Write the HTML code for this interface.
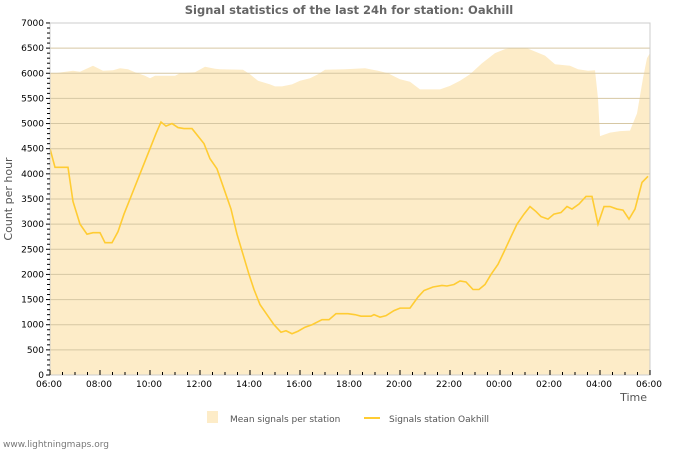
<!DOCTYPE html>
<html><head><meta charset="utf-8"><style>
body{margin:0;background:#fff;}
svg text{font-family:"DejaVu Sans","Liberation Sans",sans-serif;}
</style></head><body>
<svg width="700" height="450" xmlns="http://www.w3.org/2000/svg">
<rect width="700" height="450" fill="#fff"/>
<text x="349" y="14" text-anchor="middle" font-size="11.5" font-weight="bold" fill="#666">Signal statistics of the last 24h for station: Oakhill</text>
<g transform="translate(0,375) scale(1,-0.05029)">
<polygon fill="#fdecc8" points="50,0 50,6000 55,6000 62,6020 73,6050 80,6030 93,6150 103,6050 113,6060 120,6100 128,6080 135,6020 145,5950 150,5900 155,5950 175,5950 180,6000 195,6020 205,6130 215,6090 220,6080 243,6070 250,5980 258,5850 270,5780 275,5740 282,5740 292,5780 300,5850 310,5900 318,5980 325,6070 345,6080 365,6100 378,6050 388,6000 400,5880 410,5830 420,5680 440,5680 450,5750 460,5850 470,5980 482,6200 495,6400 505,6480 512,6500 528,6490 545,6350 555,6180 570,6150 578,6080 588,6050 595,6060 598,5500 600,4750 610,4820 620,4850 630,4860 637,5200 643,5900 647,6300 650,6400 650,0"/>
<g stroke="#d6c7a3" stroke-width="1" vector-effect="non-scaling-stroke">
<line x1="50" x2="650" y1="500" y2="500" vector-effect="non-scaling-stroke"/>
<line x1="50" x2="650" y1="1000" y2="1000" vector-effect="non-scaling-stroke"/>
<line x1="50" x2="650" y1="1500" y2="1500" vector-effect="non-scaling-stroke"/>
<line x1="50" x2="650" y1="2000" y2="2000" vector-effect="non-scaling-stroke"/>
<line x1="50" x2="650" y1="2500" y2="2500" vector-effect="non-scaling-stroke"/>
<line x1="50" x2="650" y1="3000" y2="3000" vector-effect="non-scaling-stroke"/>
<line x1="50" x2="650" y1="3500" y2="3500" vector-effect="non-scaling-stroke"/>
<line x1="50" x2="650" y1="4000" y2="4000" vector-effect="non-scaling-stroke"/>
<line x1="50" x2="650" y1="4500" y2="4500" vector-effect="non-scaling-stroke"/>
<line x1="50" x2="650" y1="5000" y2="5000" vector-effect="non-scaling-stroke"/>
<line x1="50" x2="650" y1="5500" y2="5500" vector-effect="non-scaling-stroke"/>
<line x1="50" x2="650" y1="6000" y2="6000" vector-effect="non-scaling-stroke"/>
<line x1="50" x2="650" y1="6500" y2="6500" vector-effect="non-scaling-stroke"/>
</g>
<polyline fill="none" stroke="#ffcc33" stroke-width="1.6" vector-effect="non-scaling-stroke" points="50,4500 55,4130 68,4130 73,3450 80,3000 87,2800 93,2830 100,2830 105,2630 112,2630 118,2850 124,3200 130,3500 140,4000 150,4500 156,4800 161,5030 166,4950 172,5000 178,4920 184,4900 192,4900 204,4600 210,4300 217,4100 224,3700 231,3300 237,2800 243,2400 249,2000 254,1700 260,1400 267,1200 274,1000 281,850 286,880 292,820 298,870 305,950 312,1000 322,1100 329,1100 336,1220 348,1220 355,1200 361,1170 371,1170 374,1200 380,1150 386,1180 394,1280 400,1330 410,1330 418,1550 424,1680 433,1750 442,1780 447,1770 454,1800 460,1870 466,1850 473,1700 479,1700 485,1800 491,2000 498,2200 504,2450 511,2750 517,3000 524,3200 530,3350 536,3250 541,3150 548,3100 554,3200 561,3230 567,3350 572,3300 579,3400 586,3550 592,3550 598,3000 604,3350 610,3350 617,3300 623,3280 629,3100 635,3300 642,3830 648,3950"/>
</g>
<rect x="50" y="23" width="600" height="352" fill="none" stroke="#ccc"/>
<g stroke="#000" stroke-width="1" id="yt"></g>
<g font-size="9" fill="#000" text-anchor="end" id="yl"></g>
<g font-size="9" fill="#000" text-anchor="middle" id="xl"></g>
<text x="647" y="401" text-anchor="end" font-size="11" fill="#555">Time</text>
<text transform="translate(12,199) rotate(-90)" text-anchor="middle" font-size="11" fill="#555">Count per hour</text>
<rect x="207" y="411" width="11" height="12" fill="#fdecc8"/>
<text x="230" y="422" font-size="9" fill="#555">Mean signals per station</text>
<line x1="364" y1="418" x2="380" y2="418" stroke="#ffcc33" stroke-width="2"/>
<text x="389" y="422" font-size="9" fill="#555">Signals station Oakhill</text>
<text x="3" y="447" font-size="9" fill="#777">www.lightningmaps.org</text>
</svg>
<script>
var ns="http://www.w3.org/2000/svg",yt=document.getElementById('yt'),yl=document.getElementById('yl'),xl=document.getElementById('xl');
function mk(p,t,a,txt){var e=document.createElementNS(ns,t);for(var k in a)e.setAttribute(k,a[k]);if(txt)e.textContent=txt;p.appendChild(e);}
for(var v=0;v<=7000;v+=100){var y=375-v*0.05029;var maj=v%500==0;mk(yt,'line',{x1:maj?46:47,x2:50,y1:y,y2:y});if(maj)mk(yl,'text',{x:44,y:y+3},String(v));}
var labs=["06:00","08:00","10:00","12:00","14:00","16:00","18:00","20:00","22:00","00:00","02:00","04:00","06:00"];
for(var i=0;i<=48;i++){var x=50+i*12.5;var maj=i%4==0;mk(yt,'line',{x1:x,x2:x,y1:375,y2:maj?370:372});if(maj)mk(xl,'text',{x:x-1,y:387},labs[i/4]);}
</script>
</body></html>
